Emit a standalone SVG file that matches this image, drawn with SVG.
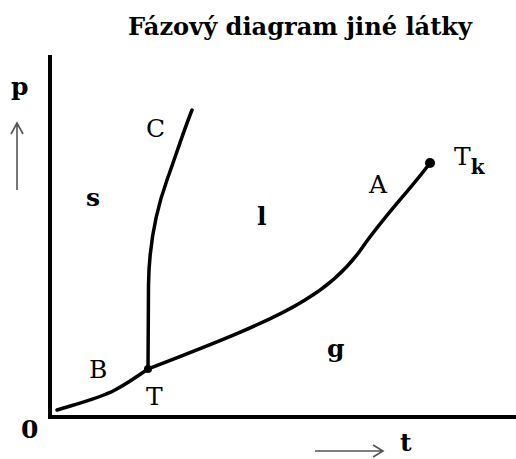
<svg xmlns="http://www.w3.org/2000/svg" width="516" height="459" viewBox="0 0 516 459">
<style>
.ax{stroke:#000;stroke-width:4;fill:none}
.cv{stroke:#000;stroke-width:3.5;fill:none;stroke-linecap:round}
.gr{stroke:#555;stroke-width:1.6;fill:none}
.lb{font-family:"DejaVu Serif","Liberation Serif",serif;font-size:25px;fill:#000}
.bd{font-weight:bold}
</style>
<rect width="516" height="459" fill="#fff"/>
<text id="title" class="lb bd" x="128" y="35" font-size="21" textLength="344" lengthAdjust="spacingAndGlyphs">Fázový diagram jiné látky</text>
<g id="axes">
<path class="ax" d="M50,55 V417 H516"/>
</g>
<g id="connectors">
<path class="cv" d="M57,410 C80,403 100,398 115,390 C128,383 138,376 148,369"/>
<path class="cv" d="M148,369 L148.5,285 C149,240 158,205 167,180 C176,155 184,130 192,110"/>
<path class="cv" d="M148,369 C210,345 270,322 305,300 C330,285 348,268 362,248 C385,215 410,190 430,163"/>
<path class="gr" d="M17,190 V123 M11,134 L17,123 L23,134"/>
<path class="gr" d="M315,451 H383 M373,445 L383,451 L373,457"/>
</g>
<g id="T-point"><circle cx="148" cy="369" r="4"/></g>
<g id="Tk-point"><circle cx="430" cy="163" r="5"/></g>
<g id="labels">
<text class="lb bd" x="11" y="95">p</text>
<text class="lb bd" x="21" y="438">0</text>
<text class="lb bd" x="400" y="451" font-size="23">t</text>
<text class="lb" x="146" y="137">C</text>
<text class="lb bd" x="86" y="206">s</text>
<text class="lb bd" x="257" y="225">l</text>
<text class="lb" x="369" y="193">A</text>
<text class="lb" x="454" y="165">T<tspan font-size="20" dy="9" font-weight="bold">k</tspan></text>
<text class="lb" x="89" y="378">B</text>
<text class="lb" x="146" y="405">T</text>
<text class="lb bd" x="327" y="357">g</text>
</g>
</svg>
